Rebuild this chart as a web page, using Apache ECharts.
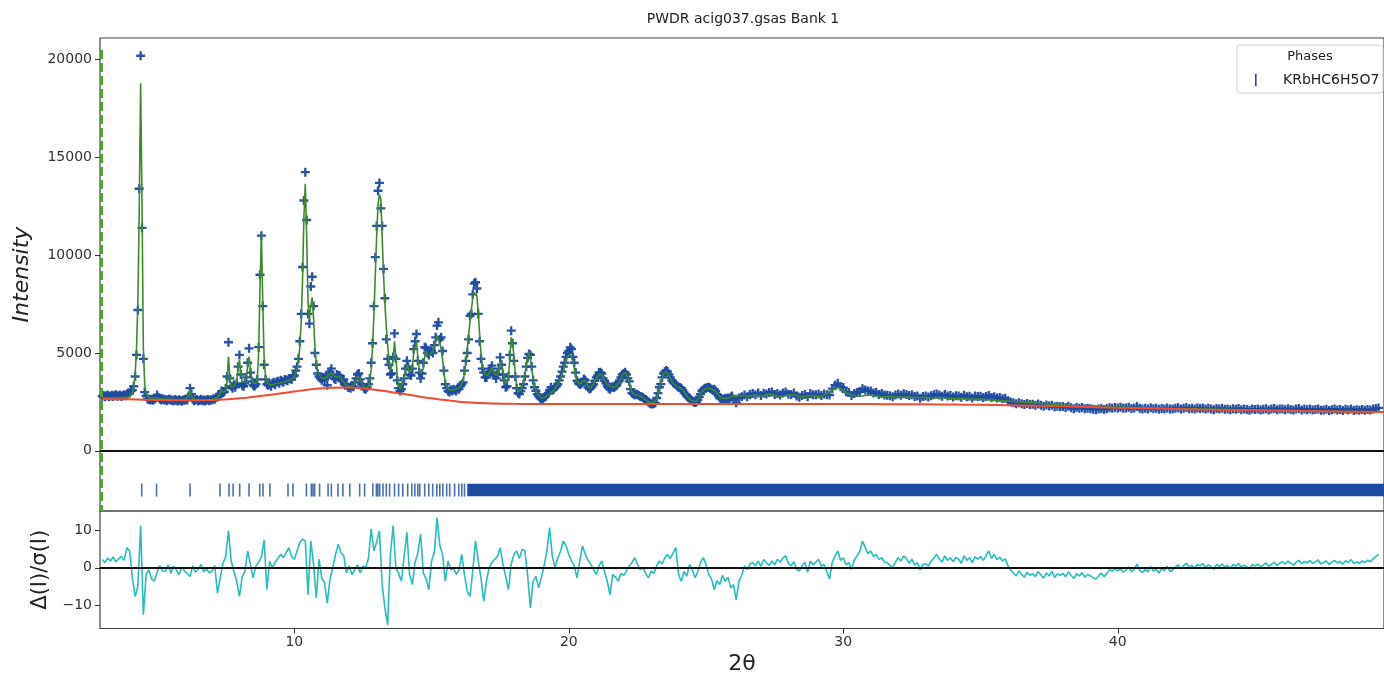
<!DOCTYPE html>
<html>
<head>
<meta charset="utf-8">
<title>PWDR acig037.gsas Bank 1</title>
<script src="https://cdn.jsdelivr.net/npm/echarts@6.0.0/dist/echarts.min.js"></script>
<style>
html,body{margin:0;padding:0;background:#fff;}
#main{width:1384px;height:681px;}
</style>
</head>
<body>
<div id="main"></div>
<script>
/* low angle part: 2theta from 3.00, step 0.05 (one row = 1 degree) */
var lowStart = 3.0, lowStep = 0.05;
var calcLow = [
  2700,2700,2700,2700,2705,2705,2705,2710,2710,2710,2710,2715,2715,2720,2720,2725,2730,2735,2740,2750,
  2780,2850,2980,3250,3900,5200,7600,12400,18800,12800,5200,3400,2950,2800,2740,2710,2690,2680,2690,2720,
  2780,2700,2665,2650,2645,2640,2640,2635,2635,2630,2630,2630,2625,2625,2620,2620,2620,2615,2615,2615,
  2615,2620,2660,2850,3100,2850,2680,2630,2615,2610,2605,2605,2605,2605,2605,2610,2610,2615,2620,2625,
  2630,2640,2660,2690,2740,2820,2950,3120,3000,2950,3050,3500,4800,3800,3250,3250,3300,3300,3550,4200,
  4650,4000,3500,3400,3550,3800,4300,4820,4200,3700,3450,3400,3450,3700,5000,8400,11100,7600,4700,3800,
  3500,3420,3380,3370,3380,3400,3420,3440,3450,3470,3480,3500,3520,3540,3560,3580,3600,3620,3650,3700,
  3800,3950,4200,4600,5300,6600,8800,12000,13650,11000,7600,6700,7400,7850,6800,5300,4500,4100,3900,3780,
  3700,3680,3700,3750,3800,3850,3950,4000,3900,3800,3750,3800,3850,3800,3700,3600,3500,3400,3350,3300,
  3300,3280,3300,3350,3450,3600,3800,3850,3700,3500,3350,3250,3200,3200,3300,3550,4200,5300,7000,9000,
  11000,12600,13100,12900,11000,9000,7500,6400,5400,4600,4100,4000,4600,5600,4800,3800,3300,3150,3250,3500,
  3800,4100,4400,4300,4000,3900,4300,5000,5300,5600,4800,4200,3950,3900,4200,4800,5100,4900,4800,4900,
  5000,5100,5300,5600,5900,5900,5500,5200,4700,4000,3500,3250,3150,3100,3100,3100,3100,3150,3150,3180,
  3200,3250,3350,3600,4000,4500,5200,5900,6600,7200,7800,8100,8190,7900,7100,6000,5000,4400,4100,3900,
  3800,3850,3950,4100,4250,4100,3900,3800,3850,4100,4600,4500,4100,3700,3400,3300,3700,4700,5800,5600,
  4800,3900,3300,3000,3000,3100,3250,3500,3900,4400,4800,5030,4700,4200,3700,3300,3100,2950,2850,2780,
  2700,2680,2700,2750,2800,2850,2900,2950,3000,3080,3200,3300,3400,3550,3700,3900,4100,4350,4600,4800,
  4900,4950,4900,4600,4200,3800,3550,3450,3400,3450,3550,3650,3600,3450,3300,3200,3200,3300,3450,3600,
  3700,3800,3900,3950,3900,3750,3600,3500,3400,3350,3300,3280,3250,3250,3280,3350,3450,3550,3700,3850,
  3950,4000,3950,3750,3500,3200,3000,2900,2850,2850,2850,2830,2800,2750,2700,2650,2600,2550,2500,2480,
  2460,2450,2460,2500,2650,2900,3200,3450,3700,3900,4000,4050,4000,3850,3700,3550,3450,3380,3330,3280,
  3250,3230,3200,3100,3000,2900,2800,2720,2650,2600,2560,2530,2520,2540,2620,2750,2900,3020,3100,3150,
  3180,3200,3200,3180,3150,3120,3100,3050,2950,2850,2750,2700,2680,2680,2680,2690,2700,2720,2750,2780
];
var obsLow = [
  2790,2830,2760,2810,2850,2770,2800,2840,2780,2820,2860,2790,2810,2850,2780,2830,2870,2810,2900,2950,
  2950,3050,3100,3300,3800,4900,7200,13400,20200,11400,4700,3000,2800,2650,2620,2600,2640,2580,2640,2700,
  2850,2720,2640,2600,2660,2590,2620,2560,2610,2650,2580,2600,2540,2620,2580,2550,2610,2570,2530,2590,
  2580,2640,2600,2800,3200,2900,2640,2560,2590,2620,2550,2580,2630,2560,2600,2540,2590,2620,2560,2610,
  2600,2660,2630,2720,2760,2790,2900,3050,2980,3020,3200,3800,5550,3700,3300,3200,3380,3250,3450,4300,
  4900,3900,3350,3300,3450,3750,4500,5240,4000,3550,3350,3300,3400,3650,5300,9000,11000,7400,4400,3650,
  3400,3350,3420,3300,3450,3500,3380,3520,3560,3450,3600,3550,3500,3650,3620,3580,3700,3680,3640,3800,
  3850,4100,4300,4700,5600,7000,9400,12800,14250,11800,7000,6500,8400,8900,7400,5000,4400,3950,3800,3700,
  3600,3750,3640,3820,3350,3900,4050,4200,3850,3700,3650,3900,3850,3840,3600,3550,3650,3350,3400,3250,
  3250,3200,3320,3280,3500,3700,3900,3950,3650,3400,3300,3180,3150,3250,3400,3700,4500,5500,7400,9900,
  11500,13300,13700,12400,11500,9300,7800,5700,4700,4400,3900,3950,4800,6000,4700,3600,3200,3050,3150,3400,
  3700,4200,4600,4300,3900,3850,4200,5200,5600,5970,4600,4000,3700,3950,4500,5300,5250,5000,4900,5100,
  5120,5000,5400,5800,6400,6570,5700,5800,5100,4100,3400,3200,3050,3000,3120,3050,3150,3100,3060,3200,
  3150,3300,3400,3500,4100,4600,5000,5700,6900,7000,8000,8550,8620,8300,7000,5600,4700,4200,4000,3750,
  3750,3900,4050,4200,4350,4000,3850,3700,3900,4200,4780,4400,3900,3600,3250,3300,3800,4900,6140,5500,
  4600,3800,3200,2950,2900,3050,3200,3400,3800,4300,4750,4950,4900,4300,3600,3250,3070,2900,2800,2700,
  2650,2620,2720,2800,2900,2950,3100,3250,3100,3150,3250,3300,3400,3600,3800,4050,4300,4500,4800,5000,
  5100,5290,5200,4800,4500,4000,3580,3450,3400,3410,3500,3670,3600,3400,3250,3160,3200,3300,3400,3580,
  3750,3850,4000,4010,3950,3700,3580,3450,3300,3200,3150,3250,3280,3240,3300,3350,3500,3600,3750,3900,
  3950,4010,3900,3700,3550,3150,2950,2900,2850,2900,2880,2820,2780,2760,2720,2650,2620,2560,2500,2430,
  2400,2390,2420,2450,2700,2950,3250,3410,3750,3950,4050,4100,4050,3900,3750,3600,3500,3450,3400,3300,
  3250,3240,3200,3100,2980,2900,2800,2730,2680,2600,2550,2500,2470,2500,2600,2750,2900,3070,3120,3200,
  3200,3240,3250,3200,3150,3100,3150,3050,2900,2800,2700,2650,2650,2620,2680,2650,2700,2650,2750,2800
];

/* high angle part: 2theta from 26.0, step 0.1 */
var highStart = 26.0, highStep = 0.1;
var calcHigh = [
  2800,2820,2830,2820,2800,2790,2800,2830,2850,2820,
  2800,2820,2870,2900,2880,2840,2800,2790,2800,2820,
  2840,2870,2850,2810,2780,2770,2780,2800,2820,2810,
  2790,2780,2800,2850,2920,3000,3100,3200,3230,3180,
  3080,2980,2900,2850,2820,2800,2790,2800,2830,2850,
  2840,2810,2790,2770,2760,2760,2770,2780,2770,2760,
  2750,2740,2740,2750,2760,2750,2730,2720,2720,2730,
  2740,2730,2710,2700,2700,2710,2720,2710,2690,2680,
  2670,2670,2680,2680,2670,2650,2640,2630,2630,2640,
  2640,2630,2610,2600,2590,2580,2580,2570,2560,2550,
  2540,2530,2520,2510,2500,2490,2480,2470,2460,2450,
  2440,2430,2420,2410,2400,2390,2380,2370,2360,2350,
  2340,2330,2320,2310,2300,2300,2290,2280,2280,2270,
  2260,2260,2250,2250,2240,2240,2230,2230,2220,2220,
  2230,2230,2225,2220,2215,2210,2210,2205,2200,2200,
  2195,2195,2190,2185,2185,2180,2175,2175,2170,2170,
  2165,2160,2160,2155,2155,2150,2145,2145,2140,2140,
  2135,2135,2130,2130,2125,2125,2120,2120,2115,2115,
  2110,2110,2105,2105,2100,2100,2095,2095,2090,2090,
  2090,2085,2085,2080,2080,2075,2075,2070,2070,2065,
  2065,2060,2060,2055,2055,2050,2050,2045,2045,2040,
  2040,2035,2035,2030,2030,2025,2025,2020,2020,2015,
  2015,2010,2010,2005,2005,2000,2000,1995,1995,1990,
  1990,1985,1985,1980,1980,1975
];
var obsHigh = [
  2620,2450,2700,2760,2850,2760,2880,2930,2870,2950,
  2830,2940,2900,2980,3010,2880,2930,2850,2960,3010,
  2890,2880,2960,2800,2740,2830,2880,2760,2930,2860,
  2870,2900,2820,2900,2860,2850,3180,3360,3450,3280,
  3230,3020,2990,2820,2930,2980,3020,3170,3110,3060,
  3050,2960,2990,2880,2930,2850,2840,2810,2760,2850,
  2900,2840,2910,2880,2820,2870,2780,2800,2690,2780,
  2800,2750,2810,2860,2900,2850,2790,2880,2800,2820,
  2750,2810,2800,2740,2840,2760,2790,2700,2800,2770,
  2790,2720,2780,2830,2720,2760,2700,2720,2660,2680,
  2560,2500,2450,2400,2460,2400,2360,2420,2360,2380,
  2330,2390,2330,2280,2340,2290,2330,2250,2280,2250,
  2260,2210,2270,2200,2150,2210,2170,2210,2150,2180,
  2150,2120,2100,2130,2160,2110,2150,2200,2180,2210,
  2190,2220,2170,2190,2230,2160,2190,2260,2170,2130,
  2170,2140,2200,2150,2170,2120,2160,2140,2190,2130,
  2140,2170,2200,2140,2180,2210,2150,2180,2130,2190,
  2160,2190,2130,2170,2140,2100,2160,2140,2170,2120,
  2140,2100,2150,2120,2160,2100,2130,2110,2070,2130,
  2110,2140,2090,2120,2150,2090,2130,2160,2100,2140,
  2140,2100,2150,2110,2080,2130,2160,2090,2130,2100,
  2130,2080,2110,2140,2070,2090,2120,2060,2100,2130,
  2080,2110,2060,2120,2090,2140,2060,2100,2070,2110,
  2070,2110,2080,2130,2160,2190
];

/* background, 2theta from 3, step 1 */
var bkgStart = 3, bkgStep = 1;
var bkg = [
  2650,2630,2600,2580,2590,2680,2840,3030,3200,3240,3110,2900,2680,2510,2430,2400,2390,2385,
  2385,2385,2385,2385,2385,2385,2385,2385,2385,2385,2385,
  2380,2375,2365,2350,2330,2300,2270,2235,2200,2170,2140,2110,2090,2070,2050,2030,2010,1990,1970
];

/* (Io-Ic)/sigma, 2theta from 3.0, step 0.1 */
var diffStart = 3.0, diffStep = 0.1;
var diff = [
  2.2,1.4,2.6,1.8,2.9,1.6,2.4,3.1,2.0,5.4,
  4.5,-2.7,-7.7,-5.0,11.3,-12.6,-1.8,-0.5,-3.0,-3.6,
  -1.2,0.6,-0.8,-1.0,0.8,-1.5,0.4,-0.6,-1.8,0.2,
  -0.9,-1.6,-2.3,0.5,-1.2,-0.4,0.9,-1.1,-0.3,-1.4,
  -0.8,0.6,-6.8,-2.7,1.2,3.0,9.9,1.8,-1.0,-3.6,
  -7.7,-2.5,-0.9,4.5,1.0,-2.7,0.5,1.4,3.0,7.4,
  -5.9,1.8,0.0,1.5,2.5,3.6,2.8,4.0,5.4,3.0,
  2.3,4.5,6.8,7.7,7.2,-7.2,7.2,1.0,-8.1,2.3,
  -2.7,-4.0,-9.5,-3.0,0.0,3.5,6.3,4.0,3.2,-1.4,
  0.5,-1.8,-0.6,0.8,-1.4,0.4,0.0,2.5,10.4,4.5,
  7.0,9.9,-4.5,-10.8,-15.3,3.6,11.3,0.0,-1.5,-3.6,
  3.0,9.5,-1.8,-4.5,1.5,4.0,9.0,-1.4,-3.0,-5.9,
  1.8,4.0,13.5,6.0,3.6,-3.6,1.8,-0.5,0.0,-1.8,
  -0.5,3.6,-2.0,-6.3,-7.7,-0.9,7.2,2.0,-2.7,-9.0,
  -3.5,0.0,1.5,2.3,3.0,5.4,1.0,-2.3,-5.9,1.0,
  3.6,4.5,2.5,5.0,4.5,-2.0,-10.8,-3.6,-2.3,-5.4,
  -2.7,0.5,4.5,10.8,3.0,0.0,2.7,4.5,7.2,5.9,
  3.6,1.8,0.5,-2.7,1.8,5.9,3.6,2.0,0.9,-0.5,
  -1.8,0.5,1.8,-1.0,-3.6,-7.2,-1.8,-2.5,-3.6,-1.5,
  -2.0,-0.9,0.5,1.4,2.7,1.0,-0.5,0.0,-1.5,-2.7,
  -0.9,-1.5,0.5,1.8,1.0,2.7,3.6,2.5,4.0,5.4,
  -1.8,-3.6,-1.0,-2.3,0.9,-0.5,-2.7,-1.0,1.5,2.7,
  0.9,-1.8,-3.0,-5.9,-3.5,-4.5,-2.0,-3.6,-2.5,-5.4,
  -4.5,-8.6,-3.6,-2.0,0.5,-0.5,1.0,1.4,0.5,1.8,
  0.4,2.2,1.4,0.6,1.8,0.8,2.3,1.5,2.6,3.2,
  1.2,0.5,1.6,-0.4,-0.9,0.6,1.4,-1.2,1.8,0.8,
  1.5,2.3,0.4,0.9,-1.0,-3.0,1.5,3.2,4.5,2.0,
  2.7,0.8,1.4,-0.5,2.1,3.2,4.4,7.2,5.4,3.8,
  4.5,3.0,3.6,2.2,2.7,1.5,1.4,0.6,0.0,1.5,
  2.7,1.8,3.2,2.5,1.2,2.3,0.8,1.4,-0.6,0.9,
  1.1,0.4,1.8,2.6,3.6,2.4,1.5,3.2,2.0,2.7,
  1.6,2.8,2.3,1.2,3.2,2.0,2.7,1.4,2.9,2.3,
  3.0,2.0,3.2,4.5,2.5,3.6,2.2,2.8,1.8,2.4,
  0.5,-0.6,-1.4,-2.2,-0.8,-1.8,-2.5,-1.2,-2.0,-1.6,
  -2.3,-1.0,-1.9,-2.8,-1.4,-2.2,-0.9,-2.6,-1.7,-2.0,
  -1.5,-2.4,-1.1,-2.0,-2.9,-1.6,-2.2,-1.3,-2.5,-1.8,
  -2.1,-2.7,-3.0,-2.2,-1.4,-2.4,-1.5,-0.5,-0.9,-0.3,
  -0.8,-0.2,-1.2,-0.6,0.2,-1.0,-0.4,1.0,-0.7,-1.3,
  -0.5,-1.1,0.3,-0.9,-0.4,-1.4,-0.2,-0.8,0.4,-1.0,
  -0.6,0.2,0.8,-0.3,0.6,1.2,0.1,0.7,-0.2,0.9,
  0.5,1.1,0.0,0.8,0.3,-0.4,0.9,0.4,1.0,0.2,
  0.6,-0.2,0.9,0.4,1.2,0.1,0.7,0.3,-0.3,0.8,
  0.5,1.0,0.2,0.7,1.3,0.4,0.9,1.5,0.6,1.2,
  1.6,1.0,1.8,1.2,0.7,1.5,2.0,1.1,1.7,1.3,
  1.9,1.2,1.6,2.1,1.0,1.4,1.8,0.9,1.5,2.0,
  1.3,1.7,1.0,1.9,1.4,2.2,1.1,1.6,1.2,1.8,
  1.4,2.0,1.6,2.4,3.0,3.6
];

/* reflection positions of KRbHC6H5O7 (single ticks, then the dense range) */
var reflections = [4.44,4.98,6.20,7.29,7.62,7.77,8.01,8.35,8.74,8.86,9.11,9.77,9.95,
  10.44,10.62,10.68,10.74,10.92,11.23,11.35,11.59,11.77,12.02,12.38,12.56,12.86,12.99,
  13.04,13.11,13.23,13.35,13.47,13.65,13.80,13.95,14.13,14.28,14.39,14.50,14.57,14.75,
  14.90,15.04,15.19,15.30,15.41,15.55,15.66,15.84,15.99,16.10,16.20];
var reflBands = [[16.30, 49.70]];

var yTicksTop = [0, 5000, 10000, 15000, 20000];
var yTicksDiff = [-10, 0, 10];
var xTicks = [10, 20, 30, 40];

var xMin = 2.92, xMax = 49.70;
var tickY = -2010;
var limitLow = 2.98;

function toPairs(start, step, vals) {
  return vals.map(function (v, i) { return [+(start + i * step).toFixed(3), v]; });
}

var obsData = toPairs(lowStart, lowStep, obsLow).concat(toPairs(highStart, highStep, obsHigh));
var calcData = toPairs(lowStart, lowStep, calcLow).concat(toPairs(highStart, highStep, calcHigh));
var bkgData = toPairs(bkgStart, bkgStep, bkg);
var diffData = toPairs(diffStart, diffStep, diff);
var reflData = reflections.map(function (t) { return [t, tickY]; });

var font = 'DejaVu Sans';
var plus = 'path://M3.7,0L6.3,0L6.3,3.7L10,3.7L10,6.3L6.3,6.3L6.3,10L3.7,10L3.7,6.3L0,6.3L0,3.7L3.7,3.7Z';
var obsBlue = '#1d4b9f';

var myChart = echarts.init(document.getElementById('main'), null, { renderer: 'canvas' });

var option = {
  animation: false,
  backgroundColor: '#fff',
  grid: [
    { left: 100, top: 38, width: 1286, height: 473, show: true, borderColor: '#444', borderWidth: 1.2, backgroundColor: 'transparent' },
    { left: 100, top: 511, width: 1286, height: 117.5, show: true, borderColor: '#444', borderWidth: 1.2, backgroundColor: 'transparent' }
  ],
  xAxis: [
    { type: 'value', gridIndex: 0, min: xMin, max: xMax, position: 'bottom',
      axisLine: { show: false, onZero: false }, axisTick: { show: false }, axisLabel: { show: false }, splitLine: { show: false } },
    { type: 'value', gridIndex: 1, min: xMin, max: xMax, position: 'bottom',
      axisLine: { show: false, onZero: false },
      axisTick: { show: true, length: 5, customValues: xTicks, lineStyle: { color: '#333', width: 1 } },
      axisLabel: { customValues: xTicks, fontFamily: font, fontSize: 14, color: '#333', margin: 7 },
      splitLine: { show: false },
      name: '2θ', nameLocation: 'middle', nameGap: 25,
      nameTextStyle: { fontFamily: font, fontSize: 22, color: '#222' } }
  ],
  yAxis: [
    { type: 'value', gridIndex: 0, min: -3081, max: 21110,
      axisLine: { show: false, onZero: false },
      axisTick: { show: true, length: 5, customValues: yTicksTop, lineStyle: { color: '#333', width: 1 } },
      axisLabel: { customValues: yTicksTop, fontFamily: font, fontSize: 14, color: '#333', margin: 8,
        formatter: function (v) { return String(v); } },
      splitLine: { show: false },
      name: 'Intensity', nameLocation: 'middle', nameGap: 67, nameRotate: 90,
      nameTextStyle: { fontFamily: font, fontSize: 22, fontStyle: 'italic', color: '#222' } },
    { type: 'value', gridIndex: 1, min: -16.3, max: 15.24,
      axisLine: { show: false, onZero: false },
      axisTick: { show: true, length: 5, customValues: yTicksDiff, lineStyle: { color: '#333', width: 1 } },
      axisLabel: { customValues: yTicksDiff, fontFamily: font, fontSize: 14, color: '#333', margin: 8,
        formatter: function (v) { return v < 0 ? '\u2212' + Math.abs(v) : String(v); } },
      splitLine: { show: false },
      name: 'Δ(I)/σ(I)', nameLocation: 'middle', nameGap: 49, nameRotate: 90,
      nameTextStyle: { fontFamily: font, fontSize: 21, color: '#222' } }
  ],
  graphic: [
    { type: 'text', x: 743, y: 19, style: { text: 'PWDR acig037.gsas Bank 1', font: '14px "DejaVu Sans"', fill: '#222', textAlign: 'center', verticalAlign: 'middle', textVerticalAlign: 'middle' } },
    { type: 'rect', z: 100, shape: { x: 1237, y: 45, width: 146, height: 48, r: 3 }, style: { fill: 'rgba(255,255,255,0.85)', stroke: '#d0d0d0', lineWidth: 1 } },
    { type: 'text', z: 101, x: 1310, y: 57, style: { text: 'Phases', font: '13px "DejaVu Sans"', fill: '#222', textAlign: 'center', verticalAlign: 'middle', textVerticalAlign: 'middle' } },
    { type: 'rect', z: 101, shape: { x: 1255, y: 74, width: 1.6, height: 12 }, style: { fill: obsBlue } },
    { type: 'text', z: 101, x: 1283, y: 80, style: { text: 'KRbHC6H5O7', font: '14px "DejaVu Sans"', fill: '#222', textAlign: 'left', verticalAlign: 'middle', textVerticalAlign: 'middle' } }
  ],
  series: [
    { name: 'Obs', type: 'scatter', xAxisIndex: 0, yAxisIndex: 0, data: obsData,
      symbol: plus, symbolSize: 9, itemStyle: { color: obsBlue, opacity: 0.95 }, z: 2, silent: true,
      markLine: { silent: true, symbol: 'none', label: { show: false },
        lineStyle: { color: '#56a03c', width: 3, type: [9, 4] },
        data: [[{ coord: [limitLow, 20500] }, { coord: [limitLow, -3081] }]] } },
    { name: 'Calc', type: 'line', xAxisIndex: 0, yAxisIndex: 0, data: calcData,
      showSymbol: false, lineStyle: { color: '#3d8a2e', width: 1.6 }, itemStyle: { color: '#3d8a2e' }, z: 3, silent: true },
    { name: 'Bkg', type: 'line', xAxisIndex: 0, yAxisIndex: 0, data: bkgData, smooth: 0.3,
      showSymbol: false, lineStyle: { color: '#ef4c30', width: 2 }, itemStyle: { color: '#ef4c30' }, z: 4, silent: true,
      markLine: { silent: true, symbol: 'none', label: { show: false },
        lineStyle: { color: '#111', width: 1.8, type: 'solid' }, data: [{ yAxis: 0 }] } },
    { name: 'KRbHC6H5O7', type: 'scatter', xAxisIndex: 0, yAxisIndex: 0, data: reflData,
      symbol: 'rect', symbolSize: [1.6, 13], itemStyle: { color: obsBlue }, z: 2, silent: true,
      markArea: { silent: true, itemStyle: { color: obsBlue, opacity: 1 },
        data: reflBands.map(function (b) { return [{ coord: [b[0], tickY + 320] }, { coord: [b[1], tickY - 320] }]; }) } },
    { name: 'Diff', type: 'line', xAxisIndex: 1, yAxisIndex: 1, data: diffData,
      showSymbol: false, lineStyle: { color: '#27bdbd', width: 1.6 }, itemStyle: { color: '#27bdbd' }, z: 3, silent: true,
      markLine: { silent: true, symbol: 'none', label: { show: false },
        lineStyle: { color: '#111', width: 1.8, type: 'solid' }, data: [{ yAxis: 0 }] } }
  ]
};

myChart.setOption(option);
</script>
</body>
</html>
